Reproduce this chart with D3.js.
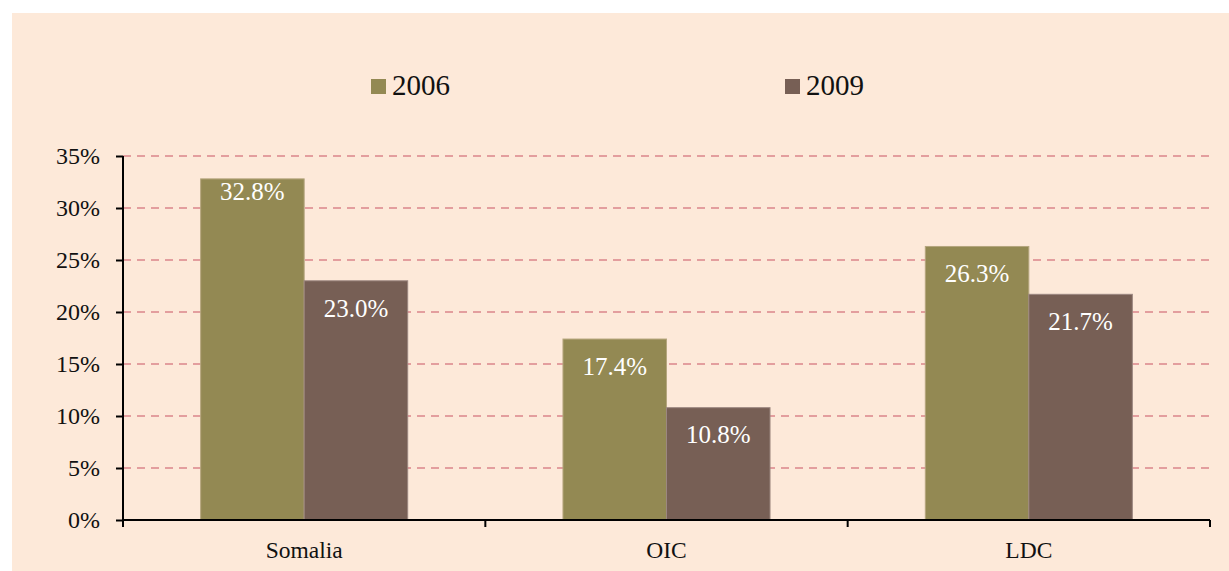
<!DOCTYPE html>
<html>
<head>
<meta charset="utf-8">
<script src="https://cdn.jsdelivr.net/npm/d3@7/dist/d3.min.js"></script>
<style>
  body { margin: 0; background: #fff; }
  svg { display: block; font-family: "Liberation Serif", "DejaVu Serif", serif; }
</style>
</head>
<body>
<div id="chart"></div>
<script>
// Chart data
var categories = ["Somalia", "OIC", "LDC"];
var seriesNames = ["2006", "2009"];
var values2006 = [32.8, 17.4, 26.3];
var values2009 = [23.0, 10.8, 21.7];
var yTicks = [0, 5, 10, 15, 20, 25, 30, 35];

var colors = ["#938953", "#775F55"];

var width = 1229;
var height = 571;

var svg = d3.select("#chart")
  .append("svg")
    .attr("width", width)
    .attr("height", height);

// Chart area background
svg.append("rect")
  .attr("x", 12)
  .attr("y", 13)
  .attr("width", width - 12)
  .attr("height", height - 13)
  .attr("fill", "#FDE9D9");

var plotLeft = 123, plotRight = 1210, plotTop = 156, plotBottom = 520;

var y = d3.scaleLinear().domain([0, 35]).range([plotBottom, plotTop]);

var x0 = d3.scaleBand()
  .domain(categories)
  .range([plotLeft, plotRight])
  .padding(0);

// gap width 150% -> bars take 2 / 3.5 of each category
var gap = x0.step() * 1.5 / 3.5;
var x1 = d3.scaleBand()
  .domain(seriesNames)
  .range([gap / 2, x0.step() - gap / 2])
  .padding(0);

// Grid lines
svg.append("g")
  .selectAll("line")
  .data(yTicks.filter(function (d) { return d > 0; }))
  .enter()
  .append("line")
    .attr("x1", plotLeft)
    .attr("x2", plotRight)
    .attr("y1", function (d) { return y(d); })
    .attr("y2", function (d) { return y(d); })
    .attr("stroke", "#E39E9E")
    .attr("stroke-width", 2)
    .attr("stroke-dasharray", "8,6");

// Bars
var rows = categories.map(function (c, i) {
  return { cat: c, vals: [values2006[i], values2009[i]] };
});

var groups = svg.append("g")
  .selectAll("g.cat")
  .data(rows)
  .enter()
  .append("g")
    .attr("class", "cat")
    .attr("transform", function (d) { return "translate(" + x0(d.cat) + ",0)"; });

groups.selectAll("rect")
  .data(function (d) { return d.vals.map(function (v, j) { return { s: seriesNames[j], v: v, j: j }; }); })
  .enter()
  .append("rect")
    .attr("x", function (d) { return x1(d.s); })
    .attr("y", function (d) { return y(d.v); })
    .attr("width", x1.bandwidth())
    .attr("height", function (d) { return plotBottom - y(d.v); })
    .attr("fill", function (d) { return colors[d.j]; })
    .attr("stroke", function (d) { return d.j == 0 ? "#B5A67E" : "#9C8780"; })
    .attr("stroke-width", 1);

// Data labels (inside end; tighter when the bar nearly reaches the top)
groups.selectAll("text")
  .data(function (d) { return d.vals.map(function (v, j) { return { s: seriesNames[j], v: v }; }); })
  .enter()
  .append("text")
    .attr("x", function (d) { return x1(d.s) + x1.bandwidth() / 2; })
    .attr("y", function (d) {
      var top = y(d.v);
      return top < plotTop + 30 ? top + 12 : top + 27;
    })
    .attr("dy", "0.35em")
    .attr("text-anchor", "middle")
    .attr("fill", "#fff")
    .style("font-size", "25px")
    .text(function (d) { return d.v.toFixed(1) + "%"; });

// Y axis
var yAxis = d3.axisLeft(y)
  .tickValues(yTicks)
  .tickSize(7)
  .tickPadding(16)
  .tickFormat(function (d) { return d + "%"; });

var gy = svg.append("g")
  .attr("transform", "translate(" + plotLeft + ",0)")
  .call(yAxis);
gy.select(".domain").attr("d", "M0," + plotTop + "V" + (plotBottom + 7));
gy.selectAll("line").attr("stroke", "#000").attr("stroke-width", 2);
gy.select(".domain").attr("stroke", "#000").attr("stroke-width", 2);
gy.selectAll("text")
  .attr("fill", "#111")
  .style("font-size", "24px")
  .style("font-family", "Liberation Serif, serif");

// X axis line with boundary ticks
var gx = svg.append("g");
gx.append("line")
  .attr("x1", plotLeft).attr("x2", plotRight)
  .attr("y1", plotBottom).attr("y2", plotBottom)
  .attr("stroke", "#000").attr("stroke-width", 2);
var bounds = categories.map(function (c) { return x0(c); }).concat([plotRight]);
gx.selectAll("line.tk")
  .data(bounds)
  .enter()
  .append("line")
    .attr("class", "tk")
    .attr("x1", function (d) { return d; })
    .attr("x2", function (d) { return d; })
    .attr("y1", plotBottom)
    .attr("y2", plotBottom + 7)
    .attr("stroke", "#000")
    .attr("stroke-width", 2);
gx.selectAll("text")
  .data(categories)
  .enter()
  .append("text")
    .attr("x", function (d) { return x0(d) + x0.bandwidth() / 2; })
    .attr("y", 558)
    .attr("text-anchor", "middle")
    .attr("fill", "#111")
    .style("font-size", "23.5px")
    .text(function (d) { return d; });

// Legend
var legendX = [371, 785];
var legend = svg.append("g")
  .selectAll("g")
  .data(seriesNames)
  .enter()
  .append("g")
    .attr("transform", function (d, i) { return "translate(" + legendX[i] + ",79)"; });
legend.append("rect")
  .attr("width", 15)
  .attr("height", 15)
  .attr("fill", function (d, i) { return colors[i]; });
legend.append("text")
  .attr("x", 21)
  .attr("y", 16)
  .attr("fill", "#111")
  .style("font-size", "29px")
  .text(function (d) { return d; });
</script>
</body>
</html>
